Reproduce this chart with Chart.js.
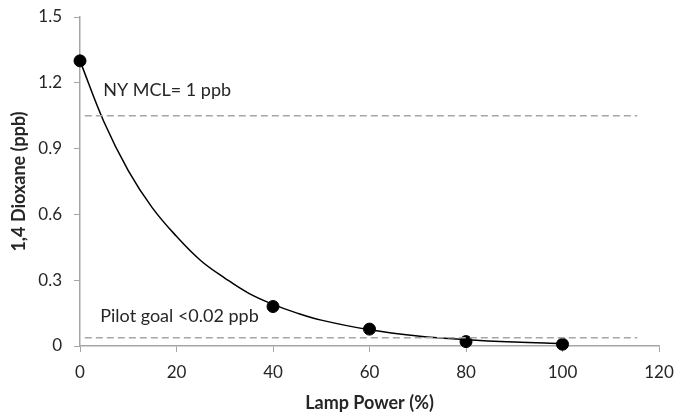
<!DOCTYPE html>
<html>
<head>
<meta charset="utf-8">
<script src="https://cdn.jsdelivr.net/npm/chart.js@4.4.1/dist/chart.umd.min.js"></script>
<style>
  html, body { margin: 0; padding: 0; background: #fff; }
  #wrap { width: 676px; height: 418px; }
</style>
</head>
<body>
<div id="wrap"><canvas id="chart" width="676" height="418"></canvas></div>
<script>
const lampPower = [0, 40, 60, 80, 100];
const dioxane = [1.30, 0.18, 0.077, 0.02, 0.008];

// trend curve
const curveX = [0, 5, 10, 15, 20, 25, 30, 35, 40, 45, 50, 60, 70, 80, 90, 100];
const curveY = [1.30, 1.02, 0.80, 0.63, 0.50, 0.39, 0.31, 0.24, 0.19, 0.15, 0.118, 0.074, 0.046, 0.029, 0.018, 0.011];

const mclLevel = 1.05;
const goalLevel = 0.038;
const refLineX = [1, 115.5];

const xTicks = [0, 20, 40, 60, 80, 100, 120];
const yTicks = [0, 0.3, 0.6, 0.9, 1.2, 1.5];

const labels = [
  { text: 'NY MCL= 1 ppb', x: 4.8, y: 1.165 },
  { text: 'Pilot goal <0.02 ppb', x: 4.2, y: 0.135 }
];

const fontFamily = 'Lato, "Open Sans", sans-serif';
const axisGray = '#a6a6a6';
const textColor = '#262626';

const textPlugin = {
  id: 'noteText',
  afterDatasetsDraw(chart) {
    const { ctx, scales } = chart;
    ctx.save();
    ctx.font = '18px ' + fontFamily;
    ctx.fillStyle = textColor;
    ctx.textBaseline = 'middle';
    labels.forEach((l) => {
      ctx.fillText(l.text, scales.x.getPixelForValue(l.x), scales.y.getPixelForValue(l.y));
    });
    ctx.restore();
  }
};

const toPoints = (xs, ys) => xs.map((x, i) => ({ x, y: ys[i] }));

new Chart(document.getElementById('chart'), {
  type: 'scatter',
  data: {
    datasets: [
      {
        data: refLineX.map((x) => ({ x, y: mclLevel })),
        showLine: true,
        borderColor: '#a6a6a6',
        borderWidth: 1.5,
        borderDash: [7, 4],
        pointRadius: 0
      },
      {
        data: refLineX.map((x) => ({ x, y: goalLevel })),
        showLine: true,
        borderColor: '#a6a6a6',
        borderWidth: 1.5,
        borderDash: [7, 4],
        pointRadius: 0
      },
      {
        data: toPoints(curveX, curveY),
        showLine: true,
        borderColor: '#000',
        borderWidth: 1.5,
        tension: 0.4,
        pointRadius: 0
      },
      {
        data: toPoints(lampPower, dioxane),
        backgroundColor: '#000',
        borderColor: '#000',
        pointRadius: 6,
        clip: false
      }
    ]
  },
  options: {
    responsive: false,
    animation: false,
    layout: { padding: { top: 17, right: 17, left: 4, bottom: 0 } },
    plugins: { legend: { display: false }, tooltip: { enabled: false } },
    scales: {
      x: {
        type: 'linear',
        min: 0,
        max: 120,
        afterBuildTicks: (s) => { s.ticks = xTicks.map((v) => ({ value: v })); },
        ticks: { color: textColor, font: { family: fontFamily, size: 17 }, padding: 10 },
        grid: { display: true, drawOnChartArea: false, color: axisGray, tickLength: 6 },
        border: { color: axisGray, width: 1.5 },
        title: { display: true, text: 'Lamp Power (%)', color: textColor, font: { family: fontFamily, size: 18, weight: 'bold' } },
        afterFit: (s) => { s.height = 72; s.paddingLeft = 0; s.paddingRight = 0; }
      },
      y: {
        type: 'linear',
        min: 0,
        max: 1.5,
        afterBuildTicks: (s) => { s.ticks = yTicks.map((v) => ({ value: v })); },
        ticks: { color: textColor, font: { family: fontFamily, size: 17 }, padding: 12, callback: (v) => String(v) },
        grid: { display: true, drawOnChartArea: false, color: axisGray, tickLength: 6 },
        border: { color: axisGray, width: 1.5 },
        title: { display: true, text: '1,4 Dioxane (ppb)', color: textColor, font: { family: fontFamily, size: 18, weight: 'bold' } },
        afterFit: (s) => { s.width = 76; s.paddingTop = 0; s.paddingBottom = 0; }
      }
    }
  },
  plugins: [textPlugin]
});
</script>
</body>
</html>
